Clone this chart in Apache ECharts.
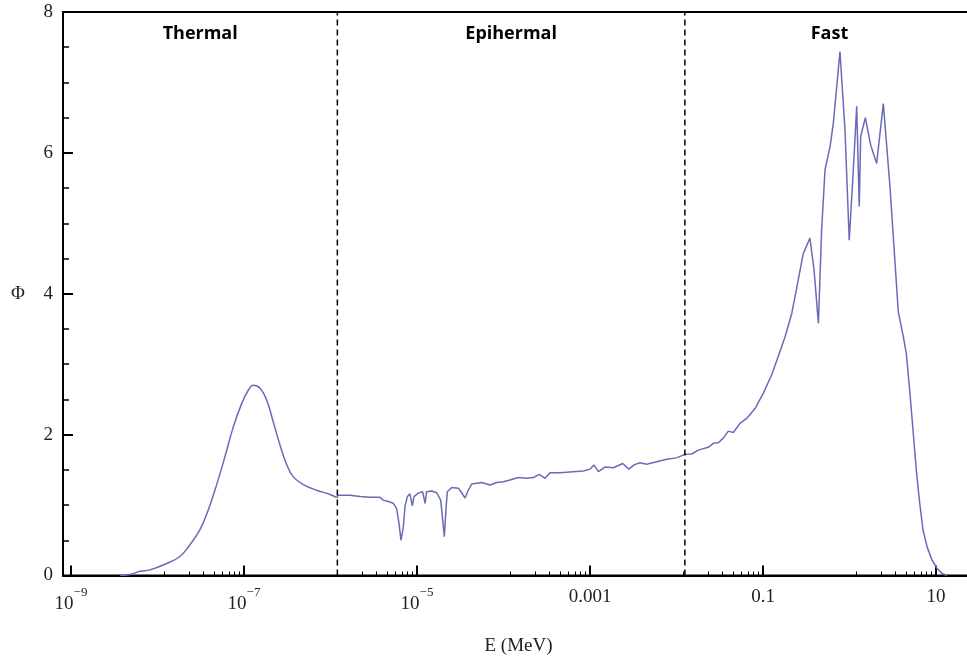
<!DOCTYPE html>
<html>
<head>
<meta charset="utf-8">
<script src="https://cdn.jsdelivr.net/npm/echarts@6/dist/echarts.min.js"></script>
<style>
html,body{margin:0;padding:0;background:#fff;}
#chart{width:967px;height:662px;}
</style>
</head>
<body>
<div id="chart"></div>
<script>
// Energy (MeV) and flux Phi, split by region
const thermalEnergy = [
  3.68e-9, 4.81e-9, 6.28e-9, 8.18e-9, 1.22e-8, 1.82e-8, 2.38e-8, 3.10e-8, 3.86e-8, 4.83e-8,
  6.03e-8, 7.52e-8, 9.40e-8, 1.12e-7, 1.28e-7, 1.53e-7, 1.83e-7, 2.18e-7, 2.61e-7, 3.12e-7,
  3.72e-7, 4.85e-7, 6.92e-7, 9.86e-7, 1.18e-6
];
const thermalFlux = [
  0.00, 0.015, 0.06, 0.08, 0.16, 0.27, 0.44, 0.65, 0.93, 1.29,
  1.69, 2.11, 2.44, 2.63, 2.70, 2.66, 2.49, 2.18, 1.85, 1.57,
  1.40, 1.29, 1.21, 1.15, 1.105
];
const epiEnergy = [
  1.23e-6, 1.68e-6, 2.19e-6, 2.86e-6, 3.73e-6, 4.07e-6, 4.66e-6, 5.32e-6, 5.82e-6, 6.19e-6, 6.53e-6,
  6.95e-6, 7.26e-6, 7.73e-6, 8.30e-6, 8.83e-6, 9.23e-6, 1.035e-5, 1.16e-5, 1.24e-5, 1.29e-5,
  1.48e-5, 1.69e-5, 1.88e-5, 1.96e-5, 2.07e-5, 2.16e-5, 2.24e-5, 2.52e-5, 3.01e-5, 3.29e-5,
  3.59e-5, 3.92e-5, 4.29e-5, 5.60e-5, 6.98e-5, 8.34e-5, 9.95e-5, 1.19e-4, 1.48e-4, 1.85e-4,
  2.21e-4, 2.59e-4, 3.02e-4, 3.45e-4, 4.50e-4, 6.41e-4, 8.38e-4, 1.00e-3, 1.11e-3, 1.25e-3,
  1.49e-3, 1.86e-3, 2.39e-3, 2.82e-3, 3.23e-3, 3.78e-3, 4.52e-3, 5.90e-3, 7.71e-3, 1.00e-2
];
const epiFlux = [
  1.14, 1.14, 1.12, 1.11, 1.11, 1.07, 1.05, 1.025, 0.95, 0.74, 0.50,
  0.69, 0.98, 1.12, 1.16, 0.99, 1.12, 1.17, 1.19, 1.025, 1.19,
  1.20, 1.175, 1.07, 1.05, 0.55, 0.93, 1.19, 1.25, 1.24, 1.175,
  1.10, 1.21, 1.30, 1.32, 1.285, 1.32, 1.33, 1.356, 1.39, 1.38,
  1.39, 1.437, 1.38, 1.46, 1.46, 1.474, 1.484, 1.51, 1.57, 1.474,
  1.54, 1.53, 1.59, 1.51, 1.57, 1.60, 1.58, 1.616, 1.65, 1.67
];
const fastEnergy = [
  1.25e-2, 1.50e-2, 1.79e-2, 2.33e-2, 2.67e-2, 3.04e-2, 3.48e-2, 3.97e-2, 4.54e-2, 5.42e-2,
  6.47e-2, 8.09e-2, 0.101, 0.126, 0.150, 0.180, 0.215, 0.245, 0.292, 0.349,
  0.389, 0.437, 0.476, 0.521, 0.596, 0.650, 0.776, 0.887, 0.993, 1.107,
  1.211, 1.297, 1.346, 1.524, 1.758, 2.061, 2.46, 2.938, 3.266, 3.664,
  4.188, 4.539, 4.966, 5.42, 5.916, 6.486, 7.079, 7.87, 8.995, 10.28,
  11.72, 13.4
];
const fastFlux = [
  1.72, 1.725, 1.78, 1.82, 1.877, 1.885, 1.95, 2.05, 2.03, 2.16,
  2.23, 2.37, 2.59, 2.85, 3.11, 3.39, 3.72, 4.08, 4.57, 4.79,
  4.34, 3.58, 4.90, 5.76, 6.09, 6.42, 7.44, 6.32, 4.76, 5.76,
  6.66, 5.24, 6.23, 6.50, 6.11, 5.85, 6.70, 5.52, 4.67, 3.745,
  3.39, 3.15, 2.63, 2.07, 1.50, 1.025, 0.646, 0.41, 0.22, 0.10,
  0.03, 0.00
];

const xMin = 8.08e-10;
const xMax = 27.5;
const majorTicks = [1e-9, 1e-7, 1e-5, 1e-3, 0.1, 10];
const tickLabels = ['10^−9', '10^−7', '10^−5', '0.001', '0.1', '10'];
const regionNames = ['Thermal', 'Epihermal', 'Fast'];
const regionBounds = [xMin, 1.2e-6, 0.0125, xMax];
const boundaryLines = [1.2e-6, 0.0125];
const yRange = [0, 8];

const pairs = (xs, ys) => xs.map((e, i) => [e, ys[i]]);
const thermalData = pairs(thermalEnergy, thermalFlux);
// join the segments so the curve is continuous
const restData = [thermalData[thermalData.length - 1]]
  .concat(pairs(epiEnergy, epiFlux), pairs(fastEnergy, fastFlux));

// minor ticks: linear subdivisions between major ticks (as in the reference)
const minorTicks = [];
for (let i = 0; i < majorTicks.length - 1; i++) {
  const a = majorTicks[i], b = majorTicks[i + 1];
  for (let k = 1; k <= 8; k++) minorTicks.push(a + k * (b - a) / 9);
}

function fmtLabel(v) {
  let idx = 0, best = Infinity;
  majorTicks.forEach((t, i) => { const d = Math.abs(Math.log10(v) - Math.log10(t)); if (d < best) { best = d; idx = i; } });
  const s = tickLabels[idx];
  if (s.indexOf('^') >= 0) {
    const p = s.split('^');
    return '{b|' + p[0] + '}{s|' + p[1] + '}';
  }
  return '{p|' + s + '}';
}

const serif = 'Liberation Serif';
const curveColor = '#6a6ab8';
const chart = echarts.init(document.getElementById('chart'));
chart.setOption({
  animation: false,
  backgroundColor: '#fff',
  grid: {
    left: 63, right: -7, top: 12, bottom: 86.5,
    show: true, borderColor: '#000', borderWidth: 2, backgroundColor: 'transparent',
    containLabel: false, outerBoundsMode: 'none'
  },
  xAxis: [{
    type: 'log', logBase: 10, min: xMin, max: xMax, position: 'bottom',
    name: 'E (MeV)', nameLocation: 'middle', nameGap: 61,
    nameTextStyle: { fontFamily: serif, fontSize: 19, color: '#222' },
    axisLine: { show: true, lineStyle: { color: '#000', width: 2 } },
    axisTick: { show: true, inside: true, length: 10, lineStyle: { color: '#000', width: 2 }, customValues: majorTicks },
    axisLabel: {
      show: true, customValues: majorTicks, margin: 11, formatter: fmtLabel,
      rich: {
        b: { fontFamily: serif, fontSize: 19, color: '#222', lineHeight: 27, verticalAlign: 'bottom' },
        s: { fontFamily: serif, fontSize: 13, color: '#222', lineHeight: 16, verticalAlign: 'top' },
        p: { fontFamily: serif, fontSize: 19, color: '#222', lineHeight: 22 }
      }
    },
    minorTick: { show: false },
    splitLine: { show: false }
  }, {
    type: 'log', logBase: 10, min: xMin, max: xMax, position: 'bottom', gridIndex: 0,
    axisLine: { show: false },
    axisTick: { show: true, inside: true, length: 4, lineStyle: { color: '#000', width: 1 }, customValues: minorTicks },
    axisLabel: { show: false },
    splitLine: { show: false }
  }],
  yAxis: {
    type: 'value', min: yRange[0], max: yRange[1], interval: 2,
    name: 'Φ', nameLocation: 'middle', nameRotate: 0, nameGap: 38,
    nameTextStyle: { fontFamily: serif, fontSize: 19, color: '#222' },
    axisLine: { show: true, lineStyle: { color: '#000', width: 2 } },
    axisTick: { show: true, inside: true, length: 10, lineStyle: { color: '#000', width: 2 } },
    minorTick: { show: true, splitNumber: 4, length: 6, lineStyle: { color: '#000', width: 1.5 } },
    axisLabel: { fontFamily: serif, fontSize: 19, color: '#222', margin: 10 },
    splitLine: { show: false }
  },
  series: [
    {
      type: 'line', xAxisIndex: 0, yAxisIndex: 0,
      data: thermalData, showSymbol: false, symbol: 'none', smooth: 0.4,
      lineStyle: { color: curveColor, width: 1.5 },
      markArea: {
        silent: true,
        itemStyle: { color: 'rgba(0,0,0,0)' },
        label: { show: true, position: 'insideTop', distance: 13, fontFamily: 'Open Sans', fontWeight: 'bold', fontSize: 18, color: '#000' },
        data: regionNames.map((n, i) => [{ name: n, xAxis: regionBounds[i] }, { xAxis: regionBounds[i + 1] }])
      }
    },
    {
      type: 'line', xAxisIndex: 0, yAxisIndex: 0,
      data: restData, showSymbol: false, symbol: 'none', smooth: false,
      lineStyle: { color: curveColor, width: 1.5 }
    }
  ].concat(boundaryLines.map(v => ({
    type: 'line', xAxisIndex: 0, yAxisIndex: 0, silent: true,
    data: [[v, yRange[0]], [v, yRange[1]]], showSymbol: false, symbol: 'none',
    lineStyle: { color: '#000', type: [6, 4], width: 1.5 }
  })))
});
</script>
</body>
</html>
